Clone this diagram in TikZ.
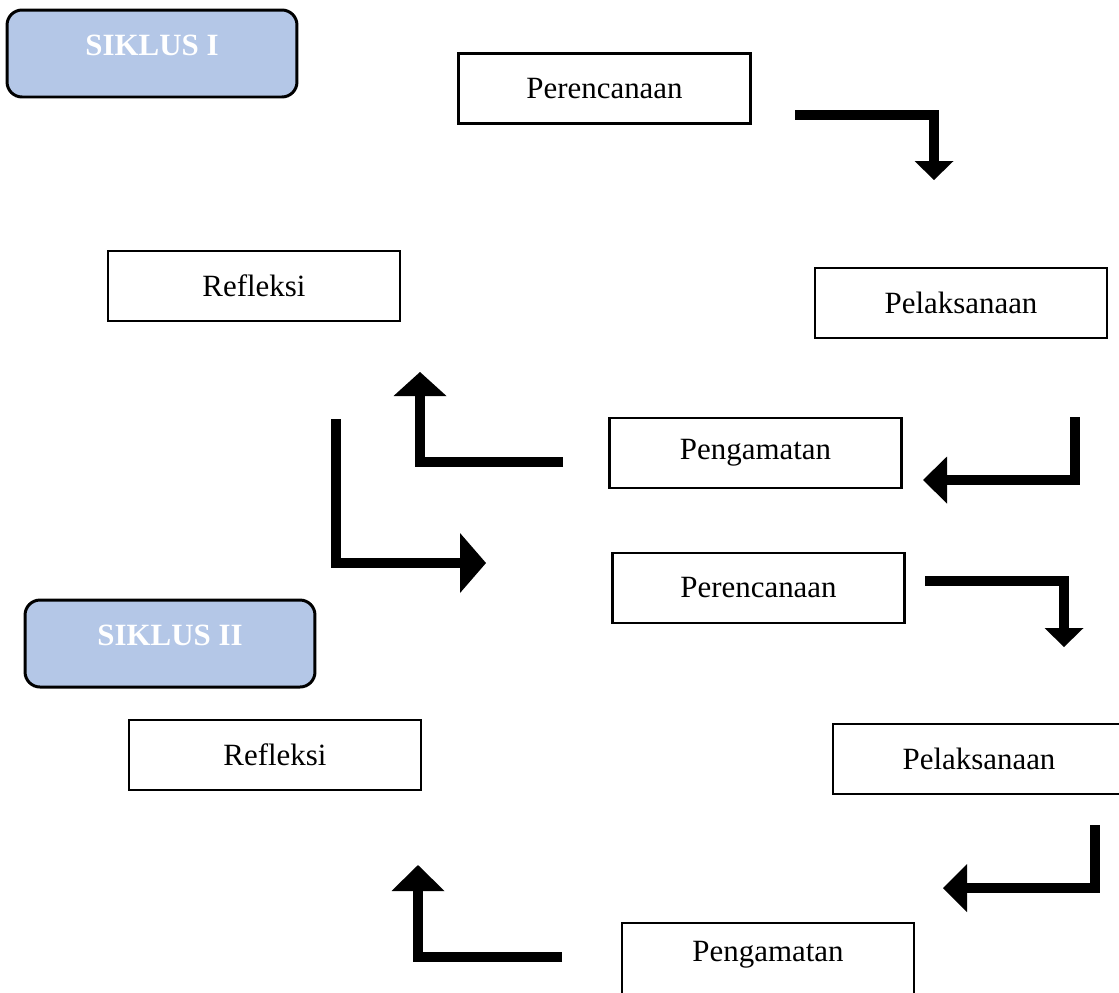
\documentclass[tikz,border=0pt]{standalone}
\usepackage{fontspec}
\setmainfont{Liberation Serif}
\usetikzlibrary{arrows.meta}
\definecolor{CycleBlue}{RGB}{180,199,231}

\begin{document}
\begin{tikzpicture}[
  x=0.02cm, y=-0.02cm,
  font=\fontsize{17.6}{20}\selectfont,
  stage/.style={draw, line width=1.3pt, minimum width=5.84cm, minimum height=1.4cm, inner sep=0pt},
  cycle/.style={draw, line width=1.7pt, rounded corners=0.3cm, fill=CycleBlue, text=white,
    font=\fontsize{17.6}{20}\selectfont\bfseries, minimum width=5.8cm, minimum height=1.74cm,
    text height=0.41cm, text depth=0.34cm, inner sep=0pt},
  bent/.style 2 args={line width=0.2cm, line join=miter,
    -{Triangle[length=#1, width=#2, line width=0pt]}}
]
  \clip (0,0) rectangle (1119,992);

  \node[cycle] (s1) at (152,53.5) {SIKLUS I};
  \node[stage] (pr1) at (604.5,88.5) {Perencanaan};
  \node[stage] (pl1) at (961,303) {Pelaksanaan};
  \node[stage] (pg1) at (755.5,453) {Pengamatan};
  \node[stage] (rf1) at (254,286) {Refleksi};

  \node[cycle] (s2) at (170,643.5) {SIKLUS II};
  \node[stage] (pr2) at (758.5,588) {Perencanaan};
  \node[stage] (pl2) at (979,759) {Pelaksanaan};
  \node[stage, minimum height=1.48cm, text depth=0.34cm] (pg2) at (768,960) {Pengamatan};
  \node[stage] (rf2) at (275,755) {Refleksi};

  \coordinate (a1s) at (795,115);  \coordinate (a1e) at (934,180);
  \coordinate (a2s) at (1075,417); \coordinate (a2e) at (923,480);
  \coordinate (a3s) at (563,462);  \coordinate (a3e) at (420,372);
  \coordinate (a4s) at (336,419);  \coordinate (a4e) at (486,563);
  \coordinate (a5s) at (925,581);  \coordinate (a5e) at (1064,647);
  \coordinate (a6s) at (1095,825); \coordinate (a6e) at (943,888);
  \coordinate (a7s) at (562,957);  \coordinate (a7e) at (418,865);

  \draw[bent={0.38cm}{0.78cm}] (a1s) -| (a1e);
  \draw[bent={0.48cm}{0.94cm}] (a2s) |- (a2e);
  \draw[bent={0.48cm}{1.06cm}] (a3s) -| (a3e);
  \draw[bent={0.52cm}{1.2cm}] (a4s) |- (a4e);
  \draw[bent={0.38cm}{0.78cm}] (a5s) -| (a5e);
  \draw[bent={0.48cm}{0.96cm}] (a6s) |- (a6e);
  \draw[bent={0.52cm}{1.06cm}] (a7s) -| (a7e);
\end{tikzpicture}
\end{document}
